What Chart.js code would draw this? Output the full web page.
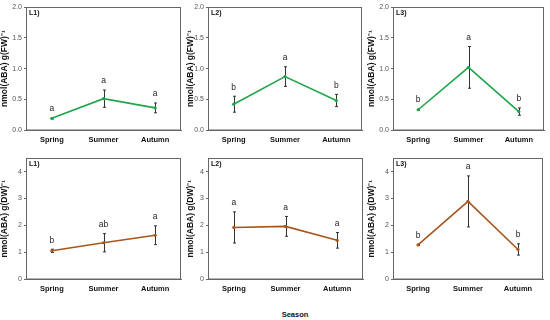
<!DOCTYPE html>
<html>
<head>
<meta charset="utf-8">
<script src="https://cdn.jsdelivr.net/npm/chart.js@4"></script>
<style>
  body { margin: 0; background: #fff; }
  #wrap { position: relative; width: 550px; height: 320px; overflow: hidden; }
  .panel { position: absolute; }
  #xtitle { position: absolute; left: 265px; width: 60px; top: 310px; text-align: center;
            font: bold 7.5px Arial, "Liberation Sans", sans-serif; color: #111; }
</style>
</head>
<body>
<div id="wrap">
  <div id="xtitle">Season</div>
</div>
<script>
// --- data ---
const seasons = ['Spring', 'Summer', 'Autumn'];

const fwL1 = [0.19, 0.51, 0.36];
const fwL1Err = [0.01, 0.14, 0.08];
const fwL1Sig = ['a', 'a', 'a'];

const fwL2 = [0.42, 0.87, 0.48];
const fwL2Err = [0.13, 0.16, 0.10];
const fwL2Sig = ['b', 'a', 'b'];

const fwL3 = [0.33, 1.02, 0.30];
const fwL3Err = [0.01, 0.34, 0.06];
const fwL3Sig = ['b', 'a', 'b'];

const dwL1 = [1.05, 1.35, 1.63];
const dwL1Err = [0.06, 0.34, 0.35];
const dwL1Sig = ['b', 'ab', 'a'];

const dwL2 = [1.92, 1.96, 1.44];
const dwL2Err = [0.58, 0.37, 0.29];
const dwL2Sig = ['a', 'a', 'a'];

const dwL3 = [1.27, 2.89, 1.10];
const dwL3Err = [0.02, 0.95, 0.21];
const dwL3Sig = ['b', 'a', 'b'];

const fwTicks = [0, 0.5, 1.0, 1.5, 2.0];
const dwTicks = [0, 1, 2, 3, 4];

const GREEN = '#1fa64a';
const BROWN = '#a8561c';
const FONT = 'Arial, "Liberation Sans", sans-serif';
Chart.defaults.font.family = FONT;

// --- plugins: frame, error bars, letters, panel tag ---
const decor = {
    id: 'decor',
    beforeDatasetsDraw(chart, args, opts) {
        const { ctx, scales: { x, y } } = chart;
        ctx.save();
        ctx.strokeStyle = '#333';
        ctx.lineWidth = 1;
        opts.vals.forEach((v, i) => {
            const px = Math.round(x.getPixelForValue(i)) + 0.5;
            const top = y.getPixelForValue(v + opts.err[i]);
            const bot = y.getPixelForValue(v - opts.err[i]);
            ctx.beginPath();
            ctx.moveTo(px, top); ctx.lineTo(px, bot);
            ctx.moveTo(px - 1.5, top); ctx.lineTo(px + 1.5, top);
            ctx.moveTo(px - 1.5, bot); ctx.lineTo(px + 1.5, bot);
            ctx.stroke();
        });
        ctx.restore();
    },
    afterDraw(chart, args, opts) {
        const { ctx, chartArea: a, scales: { x, y } } = chart;
        ctx.save();
        ctx.strokeStyle = '#666';
        ctx.lineWidth = 1;
        ctx.strokeRect(Math.round(a.left) + 0.5, Math.round(a.top) + 0.5,
            Math.round(a.right - a.left) - 1, Math.round(a.bottom - a.top) - 0.5);
        ctx.fillStyle = '#222';
        ctx.font = '8.5px ' + FONT;
        ctx.textAlign = 'center';
        ctx.textBaseline = 'middle';
        opts.sig.forEach((s, i) => {
            ctx.fillText(s, x.getPixelForValue(i), y.getPixelForValue(opts.vals[i] + opts.err[i]) - 9);
        });
        ctx.font = 'bold 7px ' + FONT;
        ctx.textAlign = 'left';
        ctx.fillStyle = '#111';
        ctx.fillText(opts.tag, a.left + 3, a.top + 6);
        ctx.restore();
    }
};

// --- panel layout (plot-area boxes in page pixels) ---
const panels = [
    { tag: 'L1)', vals: fwL1, err: fwL1Err, sig: fwL1Sig, ticks: fwTicks, max: 2, color: GREEN, unit: 'FW', box: [26, 7, 182, 130], yw: 26 },
    { tag: 'L2)', vals: fwL2, err: fwL2Err, sig: fwL2Sig, ticks: fwTicks, max: 2, color: GREEN, unit: 'FW', box: [208, 7, 363, 130], yw: 22 },
    { tag: 'L3)', vals: fwL3, err: fwL3Err, sig: fwL3Sig, ticks: fwTicks, max: 2, color: GREEN, unit: 'FW', box: [393, 7, 545, 130], yw: 26 },
    { tag: 'L1)', vals: dwL1, err: dwL1Err, sig: dwL1Sig, ticks: dwTicks, max: 4.5, color: BROWN, unit: 'DW', box: [26, 158, 182, 279], yw: 26 },
    { tag: 'L2)', vals: dwL2, err: dwL2Err, sig: dwL2Sig, ticks: dwTicks, max: 4.5, color: BROWN, unit: 'DW', box: [208, 158, 364, 279], yw: 22 },
    { tag: 'L3)', vals: dwL3, err: dwL3Err, sig: dwL3Sig, ticks: dwTicks, max: 4.5, color: BROWN, unit: 'DW', box: [393, 158, 544, 279], yw: 26 }
];

const wrap = document.getElementById('wrap');
const PAD_TOP = 6, PAD_RIGHT = 3, XH = 22;

panels.forEach(p => {
    const [l, t, r, b] = p.box;
    const holder = document.createElement('div');
    holder.className = 'panel';
    holder.style.left = (l - p.yw) + 'px';
    holder.style.top = (t - PAD_TOP) + 'px';
    const canvas = document.createElement('canvas');
    canvas.width = r - l + p.yw + PAD_RIGHT;
    canvas.height = b - t + PAD_TOP + XH;
    holder.appendChild(canvas);
    wrap.appendChild(holder);

    const isFW = p.unit === 'FW';
    new Chart(canvas, {
        type: 'line',
        data: {
            labels: seasons,
            datasets: [{
                data: p.vals,
                borderColor: p.color,
                backgroundColor: p.color,
                borderWidth: 1.6,
                pointRadius: 1.6,
                pointBorderWidth: 0,
                tension: 0
            }]
        },
        options: {
            responsive: false,
            animation: false,
            layout: { padding: { top: PAD_TOP, right: PAD_RIGHT, left: 0, bottom: 0 } },
            scales: {
                x: {
                    type: 'category',
                    offset: true,
                    grid: { display: false, drawTicks: false },
                    border: { color: '#666' },
                    ticks: { color: '#111', padding: 5, font: { size: 7.5, weight: 'bold' } },
                    afterFit: s => { s.height = XH; }
                },
                y: {
                    min: 0,
                    max: p.max,
                    afterBuildTicks: s => { s.ticks = p.ticks.map(v => ({ value: v })); },
                    grid: { drawOnChartArea: false, tickLength: 2, color: '#666' },
                    border: { color: '#666' },
                    ticks: {
                        color: '#555', padding: 2, font: { size: 7 },
                        callback: v => isFW ? v.toFixed(1) : String(v)
                    },
                    title: {
                        display: true,
                        text: 'nmol(ABA) g(' + p.unit + ')\u207B\u00B9',
                        color: '#111',
                        padding: 0,
                        font: { size: 8.5, weight: 'bold' }
                    },
                    afterFit: s => { s.width = p.yw; }
                }
            },
            plugins: {
                legend: { display: false },
                tooltip: { enabled: false },
                decor: { vals: p.vals, err: p.err, sig: p.sig, tag: p.tag }
            }
        },
        plugins: [decor]
    });
});
</script>
</body>
</html>
